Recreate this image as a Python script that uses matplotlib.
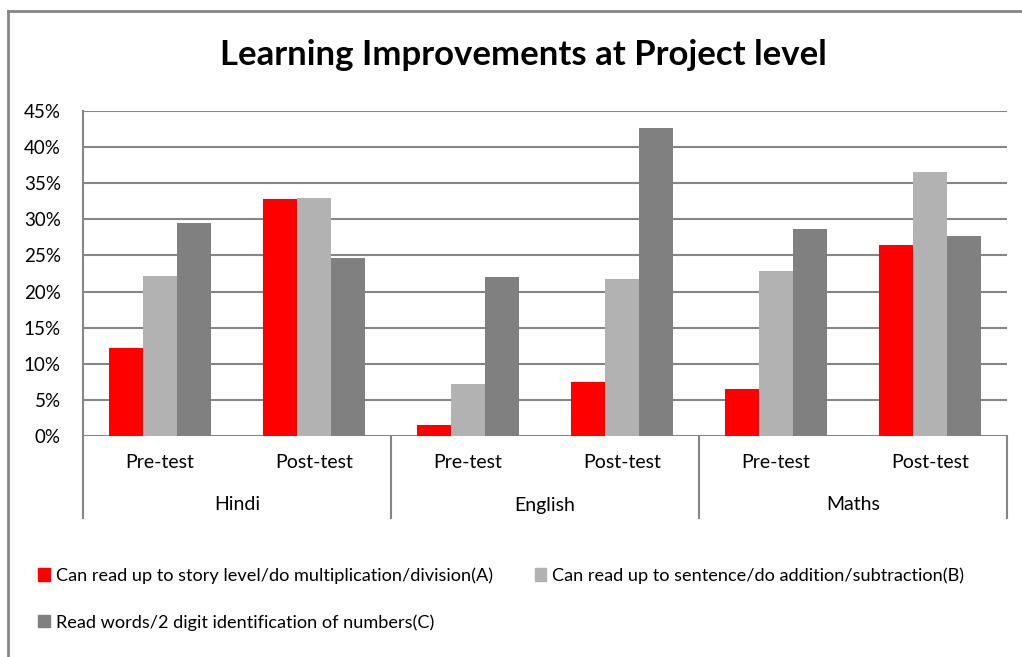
import matplotlib
matplotlib.use("Agg")
import matplotlib.pyplot as plt
from matplotlib.lines import Line2D
from matplotlib.patches import Patch
import matplotlib.transforms as mtransforms

subjects = ["Hindi", "English", "Maths"]
tests = ["Pre-test", "Post-test"]
series_names = [
    "Can read up to story level/do multiplication/division(A)",
    "Can read up to sentence/do addition/subtraction(B)",
    "Read words/2 digit identification of numbers(C)",
]
series_A = [0.122, 0.328, 0.015, 0.075, 0.065, 0.265]
series_B = [0.222, 0.330, 0.072, 0.217, 0.228, 0.366]
series_C = [0.295, 0.246, 0.220, 0.426, 0.287, 0.277]
colors = ["#FF0000", "#B2B2B2", "#808080"]
yticks = [0.0, 0.05, 0.10, 0.15, 0.20, 0.25, 0.30, 0.35, 0.40, 0.45]
ytick_labels = ["0%", "5%", "10%", "15%", "20%", "25%", "30%", "35%", "40%", "45%"]
title = "Learning Improvements at Project level"

W, H = 1022, 657
fig = plt.figure(figsize=(W / 100, H / 100), dpi=100)
font = "Lato"
plt.rcParams["font.family"] = [font, "DejaVu Sans"]

L, R, T, B = 83, 1007, 111, 436
ax = fig.add_axes([L / W, 1 - B / H, (R - L) / W, (B - T) / H])
ax.set_xlim(0, 6)
ax.set_ylim(0, 0.45)

grid_col = "#868686"
for y in yticks:
    ax.axhline(y, color=grid_col, lw=1.5, zorder=0)

bw = 0.222
n = len(series_A)
for k, (vals, c) in enumerate(zip([series_A, series_B, series_C], colors)):
    xs = [i + 0.5 + (k - 1) * bw for i in range(n)]
    ax.bar(xs, vals, width=bw, color=c, zorder=2, label=series_names[k])

for s in ax.spines.values():
    s.set_visible(False)
ax.set_xticks([])
ax.set_yticks(yticks)
ax.set_yticklabels(ytick_labels, fontsize=13.5)
ax.tick_params(axis="y", length=0, pad=16)

trans = mtransforms.blended_transform_factory(ax.transData, ax.transAxes)
ybot = -(518 - B) / (B - T)
ax.plot([0, 0], [1, ybot], transform=trans, color=grid_col, lw=1.5, clip_on=False)
for xsep in [2, 4, 6]:
    ax.plot([xsep, xsep], [0, ybot], transform=trans, color=grid_col, lw=1.5, clip_on=False)

y_test = -(463 - B) / (B - T)
y_subj = -(505 - B) / (B - T)
for i in range(6):
    ax.text(i + 0.5, y_test, tests[i % 2], transform=trans, ha="center", va="center",
            fontsize=14, color="#000000")
for j, s in enumerate(subjects):
    ax.text(2 * j + 1, y_subj, s, transform=trans, ha="center", va="center",
            fontsize=14, color="#000000")

fig.text(523 / W, 1 - 55 / H, title, ha="center", va="center", fontsize=25,
         fontweight="bold", color="#000000")

fig.add_artist(Line2D([8 / W, 1], [1 - 11 / H, 1 - 11 / H], transform=fig.transFigure,
                      color="#868686", lw=2))
fig.add_artist(Line2D([8 / W, 8 / W], [1 - 11 / H, 0], transform=fig.transFigure,
                      color="#868686", lw=2))

handles = [Patch(color=colors[0]), Patch(color=colors[2]), Patch(color=colors[1])]
labels = [series_names[0], series_names[2], series_names[1]]
leg = fig.legend(handles, labels, ncol=2, loc="upper left",
                 bbox_to_anchor=(22 / W, 1 - 551 / H), frameon=False,
                 fontsize=13.1, handlelength=0.65, handleheight=0.65,
                 handletextpad=0.3, columnspacing=2.3, labelspacing=1.65)

fig.savefig("out.png", dpi=100)
